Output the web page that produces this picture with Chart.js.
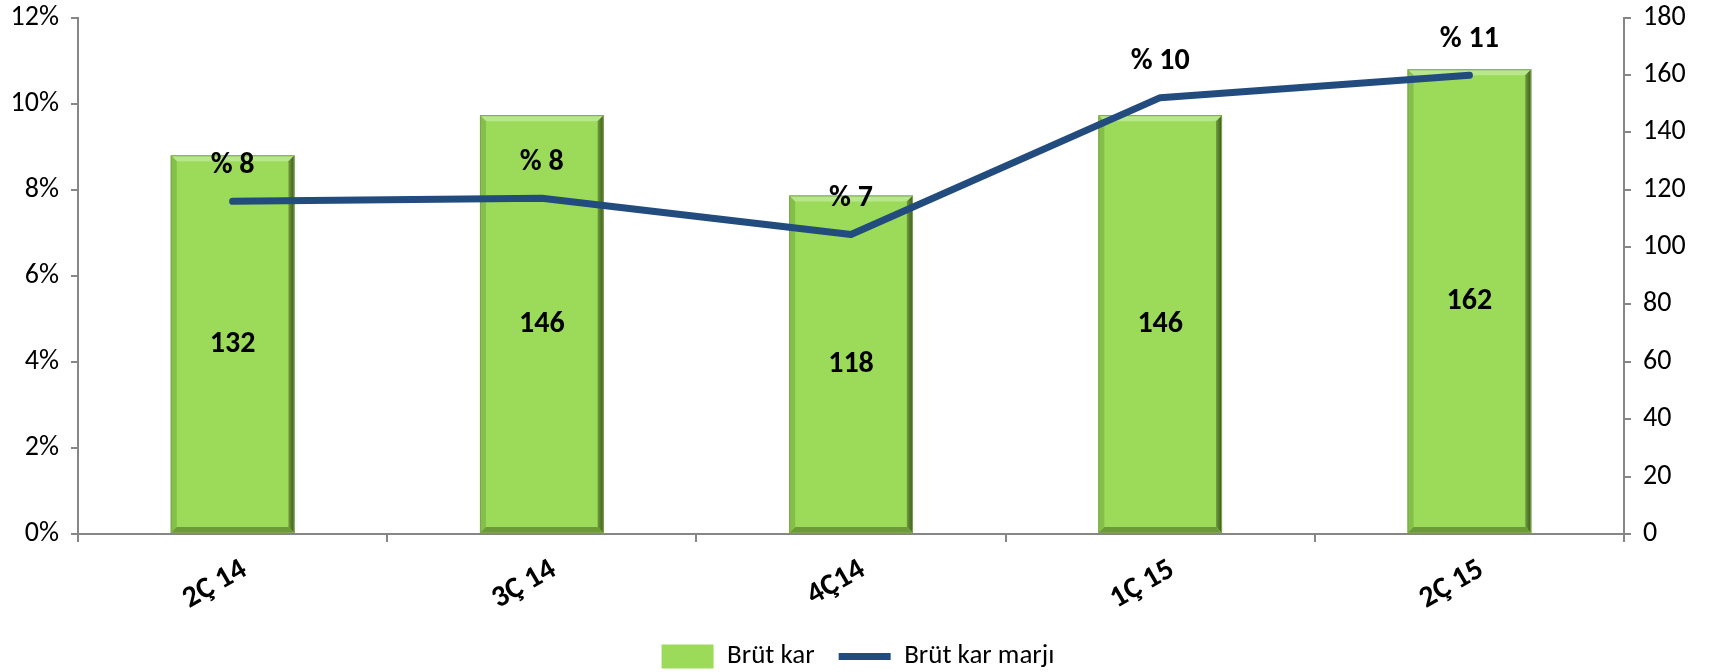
<!DOCTYPE html>
<html>
<head>
<meta charset="utf-8">
<script src="https://cdn.jsdelivr.net/npm/chart.js@4"></script>
<style>
  html, body { margin: 0; padding: 0; background: #fff; }
  #wrap { width: 1716px; height: 672px; position: relative; }
</style>
</head>
<body>
<div id="wrap"><canvas id="chart"></canvas></div>
<script>
// quarters and values
const categories = ['2Ç 14', '3Ç 14', '4Ç14', '1Ç 15', '2Ç 15'];
const grossProfit = [132, 146, 118, 146, 162];          // right axis
const grossMargin = [7.73, 7.80, 6.96, 10.14, 10.66];    // left axis, %
const marginTicks = [0, 2, 4, 6, 8, 10, 12];
const profitTicks = [0, 20, 40, 60, 80, 100, 120, 140, 160, 180];

const FONT = 'Carlito, Calibri, Lato, sans-serif';
const AXIS_GREY = '#868686';
const BAR_GREEN = '#9CDB5A';
const LINE_BLUE = '#224B7E';

// bevelled look of the Excel bars, drawn on the bar elements
const bevelPlugin = {
    id: 'bevel',
    afterDatasetDraw(chart, args) {
        if (args.index !== 0) return;
        const ctx = chart.ctx;
        const b = 6;
        args.meta.data.forEach(bar => {
            const { x, y, base, width } = bar.getProps(['x', 'y', 'base', 'width'], true);
            const l = x - width / 2, r = x + width / 2, t = y, bt = base;
            const poly = (pts, fill) => {
                ctx.beginPath();
                ctx.moveTo(pts[0][0], pts[0][1]);
                pts.slice(1).forEach(p => ctx.lineTo(p[0], p[1]));
                ctx.closePath();
                ctx.fillStyle = fill;
                ctx.fill();
            };
            ctx.save();
            poly([[l, t], [r, t], [r - b, t + b], [l + b, t + b]], '#B8E68A');
            poly([[l, t], [l + b, t + b], [l + b, bt - b], [l, bt]], '#84BF4A');
            const g = ctx.createLinearGradient(r - b, 0, r, 0);
            g.addColorStop(0, '#6F9B3B');
            g.addColorStop(1, '#3C5621');
            poly([[r, t], [r, bt], [r - b, bt - b], [r - b, t + b]], g);
            poly([[l, bt], [r, bt], [r - b, bt - b], [l + b, bt - b]], '#6C9A3A');
            ctx.strokeStyle = '#7BA84A';
            ctx.lineWidth = 1;
            ctx.strokeRect(l + 0.5, t + 0.5, width - 1, bt - t - 1);
            ctx.restore();
        });
    }
};

const labelPlugin = {
    id: 'valueLabels',
    afterDatasetsDraw(chart) {
        const ctx = chart.ctx;
        ctx.save();
        ctx.fillStyle = '#000';
        ctx.textAlign = 'center';
        ctx.textBaseline = 'middle';
        ctx.font = `bold 30px ${FONT}`;
        chart.getDatasetMeta(0).data.forEach((bar, i) => {
            const { x, y, base } = bar.getProps(['x', 'y', 'base'], true);
            ctx.fillText(String(grossProfit[i]), x, (y + base) / 2);
        });
        chart.getDatasetMeta(1).data.forEach((pt, i) => {
            ctx.fillText('% ' + Math.round(grossMargin[i]), pt.x, pt.y - 36);
        });
        ctx.restore();
    }
};

new Chart(document.getElementById('chart'), {
    type: 'bar',
    data: {
        labels: categories,
        datasets: [
            {
                label: 'Brüt kar',
                data: grossProfit,
                yAxisID: 'y1',
                backgroundColor: BAR_GREEN,
                borderWidth: 0,
                barPercentage: 0.8,
                categoryPercentage: 0.5,
                pointStyle: 'rect',
                order: 1
            },
            {
                type: 'line',
                label: 'Brüt kar marjı',
                data: grossMargin,
                yAxisID: 'y',
                borderColor: LINE_BLUE,
                backgroundColor: LINE_BLUE,
                borderWidth: 7,
                borderCapStyle: 'round',
                borderJoinStyle: 'round',
                pointRadius: 0,
                pointStyle: 'line',
                tension: 0,
                order: 0
            }
        ]
    },
    options: {
        responsive: true,
        maintainAspectRatio: false,
        animation: false,
        layout: { padding: { top: 0, bottom: -8 } },
        plugins: {
            tooltip: { enabled: false },
            legend: {
                position: 'bottom',
                labels: {
                    usePointStyle: true,
                    pointStyleWidth: 52,
                    boxHeight: 24,
                    padding: 24,
                    color: '#000',
                    font: { size: 27, family: FONT },
                    sort: (a, b) => a.datasetIndex - b.datasetIndex
                }
            }
        },
        scales: {
            x: {
                grid: { offset: true, drawOnChartArea: false, color: AXIS_GREY, tickLength: 8, lineWidth: 2 },
                border: { color: AXIS_GREY, width: 2 },
                ticks: {
                    color: '#000',
                    font: { size: 30, weight: 'bold', family: FONT },
                    minRotation: 30,
                    maxRotation: 30,
                    labelOffset: 12,
                    padding: 10
                },
                afterFit: s => { s.height = 85; }
            },
            y: {
                position: 'left',
                min: marginTicks[0],
                max: marginTicks[marginTicks.length - 1],
                ticks: {
                    stepSize: marginTicks[1] - marginTicks[0],
                    color: '#000',
                    font: { size: 28, family: FONT, lineHeight: 0.4 },
                    padding: 12,
                    callback: v => v + '%'
                },
                grid: { drawOnChartArea: false, color: AXIS_GREY, tickLength: 7, lineWidth: 2 },
                border: { color: AXIS_GREY, width: 2 },
                afterFit: s => { s.width = 78; }
            },
            y1: {
                position: 'right',
                min: profitTicks[0],
                max: profitTicks[profitTicks.length - 1],
                ticks: {
                    stepSize: profitTicks[1] - profitTicks[0],
                    color: '#000',
                    font: { size: 28, family: FONT, lineHeight: 0.4 },
                    padding: 12
                },
                grid: { drawOnChartArea: false, color: AXIS_GREY, tickLength: 7, lineWidth: 2 },
                border: { color: AXIS_GREY, width: 2 },
                afterFit: s => { s.width = 92; }
            }
        }
    },
    plugins: [bevelPlugin, labelPlugin]
});
</script>
</body>
</html>
